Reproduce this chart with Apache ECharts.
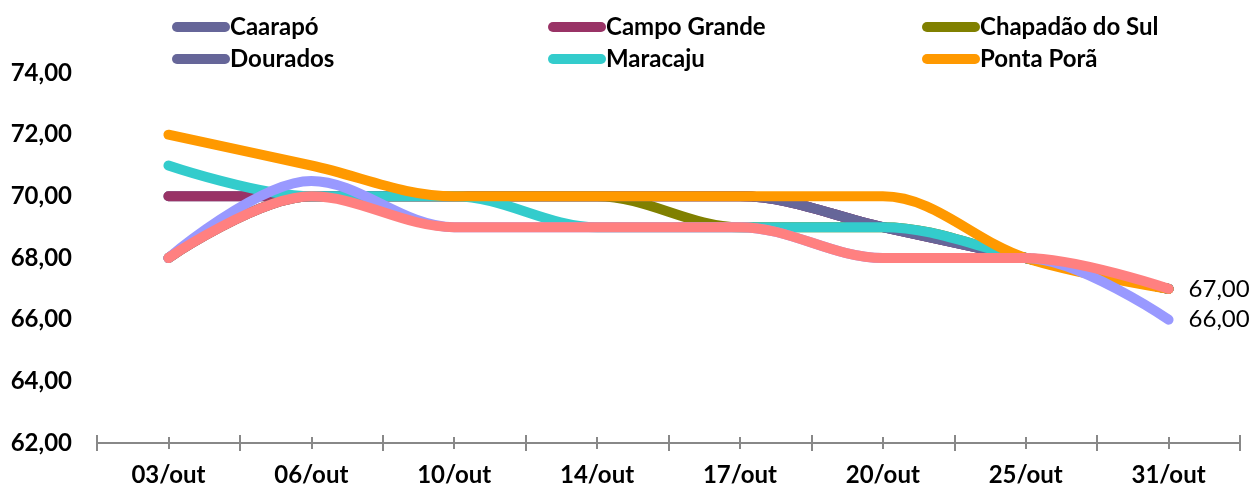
<!DOCTYPE html>
<html>
<head>
<meta charset="utf-8">
<script src="https://cdn.jsdelivr.net/npm/echarts@6/dist/echarts.min.js"></script>
<style>
html,body{margin:0;padding:0;background:#fff;}
#chart{width:1252px;height:488px;}
</style>
</head>
<body>
<div id="chart"></div>
<script>
const categories = ['03/out','06/out','10/out','14/out','17/out','20/out','25/out','31/out'];
const yTicks = [62, 64, 66, 68, 70, 72, 74];

const caarapo      = [70, 70, 70, 70, 70, 69, 68, 67];
const campoGrande  = [70, 70, 70, 70, 70, 69, 68, 67];
const chapadao     = [68, 70, 70, 70, 69, 69, 68, 67];
const dourados     = [68, 70, 70, 70, 70, 69, 68, 67];
const maracaju     = [71, 70, 70, 69, 69, 69, 68, 67];
const pontaPora    = [72, 71, 70, 70, 70, 70, 68, 67];
const serie7       = [68, 70.5, 69, 69, 69, 68, 68, 66];
const serie8       = [68, 70, 69, 69, 69, 68, 68, 67];

const seriesDefs = [
  {name:'Caarapó', data:caarapo, color:'#666699'},
  {name:'Campo Grande', data:campoGrande, color:'#993366'},
  {name:'Chapadão do Sul', data:chapadao, color:'#808000'},
  {name:'Dourados', data:dourados, color:'#666699'},
  {name:'Maracaju', data:maracaju, color:'#33CCCC'},
  {name:'Ponta Porã', data:pontaPora, color:'#FF9900'},
  {name:'Série 7', data:serie7, color:'#9999FF', endLabel:true},
  {name:'Série 8', data:serie8, color:'#FF8080', endLabel:true}
];

const FONT = 'Lato';
const fmt = v => Number(v).toFixed(2).replace('.', ',');
const iconPath = 'path://M5,0 L53,0 A5,5 0 0 1 53,10 L5,10 A5,5 0 0 1 5,0 Z';

function legend(left, names){
  return {
    left: left, top: 10, orient: 'vertical', itemGap: 8,
    itemWidth: 58, itemHeight: 10, icon: iconPath, selectedMode: false,
    data: names,
    textStyle: {fontFamily: FONT, fontWeight: 'bold', fontSize: 24, color: '#000', padding:[0,0,0,-5]}
  };
}

const baseX = {
  type: 'category', data: categories, position: 'bottom', boundaryGap: true,
  axisLine: {show: true, lineStyle: {color: '#888888', width: 2}},
  splitLine: {show: false}
};

const option = {
  backgroundColor: '#ffffff',
  animation: false,
  legend: [
    legend(167, ['Caarapó', 'Dourados']),
    legend(543, ['Campo Grande', 'Maracaju']),
    legend(917, ['Chapadão do Sul', 'Ponta Porã'])
  ],
  grid: {left: 97, right: 12, top: 73, bottom: 45},
  xAxis: [
    Object.assign({}, baseX, {
      axisTick: {show: true, length: 8, lineStyle: {color: '#888888', width: 2}},
      axisLabel: {fontFamily: FONT, fontWeight: 'bold', fontSize: 24, color: '#000', margin: 20}
    }),
    Object.assign({}, baseX, {
      axisTick: {show: true, inside: true, length: 8, lineStyle: {color: '#888888', width: 2}},
      axisLabel: {show: false}
    }),
    Object.assign({}, baseX, {
      axisTick: {show: true, alignWithLabel: true, length: 6, lineStyle: {color: '#888888', width: 2}},
      axisLabel: {show: false}
    }),
    Object.assign({}, baseX, {
      axisTick: {show: true, alignWithLabel: true, inside: true, length: 6, lineStyle: {color: '#888888', width: 2}},
      axisLabel: {show: false}
    })
  ],
  yAxis: {
    type: 'value', min: yTicks[0], max: yTicks[yTicks.length-1], interval: 2,
    axisLine: {show: false}, axisTick: {show: false}, splitLine: {show: false},
    axisLabel: {fontFamily: FONT, fontWeight: 'bold', fontSize: 24, color: '#000', margin: 25, formatter: fmt}
  },
  series: seriesDefs.map(s => ({
    name: s.name, type: 'line', data: s.data, xAxisIndex: 0,
    smooth: 0.35, showSymbol: false, symbol: 'none',
    color: s.color,
    lineStyle: {color: s.color, width: 10, cap: 'round', join: 'round'},
    endLabel: s.endLabel ? {
      show: true, distance: 20, formatter: p => fmt(p.value),
      fontFamily: FONT, fontSize: 24, color: '#000'
    } : {show: false}
  }))
};

const chart = echarts.init(document.getElementById('chart'), null, {renderer: 'canvas'});
chart.setOption(option);
</script>
</body>
</html>
